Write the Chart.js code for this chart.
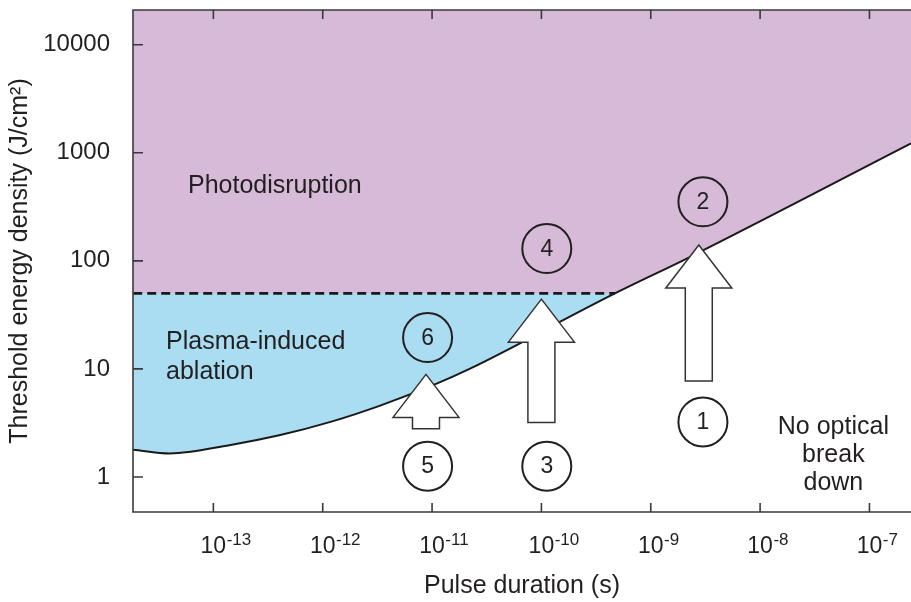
<!DOCTYPE html>
<html>
<head>
<meta charset="utf-8">
<script src="https://cdn.jsdelivr.net/npm/chart.js@4/dist/chart.umd.min.js"></script>
<style>
	body { margin: 0; background: #ffffff; }
	canvas { display: block; }
</style>
</head>
<body>
<canvas id="thresholdChart" width="911" height="602"></canvas>
<script>
// threshold curve
const pulseDuration = [1.85e-14, 4e-14, 1.4e-13, 4e-13, 1.2e-12, 3.4e-12, 1.1e-11, 2.2e-11, 5.2e-11, 1.4e-10, 4.7e-10, 2.3e-9, 2.4e-7];
const thresholdDensity = [1.79, 1.65, 1.97, 2.43, 3.25, 4.6, 7.3, 10, 15.5, 26.5, 50, 109, 1220];
const plasmaLimit = 50;

const pulseTickExponents = [-13, -12, -11, -10, -9, -8, -7];
const densityTicks = [1, 10, 100, 1000, 10000];

// numbered circles
const circleLabels = ["1", "2", "3", "4", "5", "6"];
const circlePulse = [3.0e-9, 3.0e-9, 1.12e-10, 1.12e-10, 9.1e-12, 9.1e-12];
const circleDensity = [3.23, 352, 1.26, 130, 1.26, 19.5];

// block arrows (from -> to)
const arrowPulse = [8.8e-12, 1.0e-10, 2.75e-9];
const arrowFrom = [2.8, 3.19, 7.74];
const arrowTo = [8.9, 44.2, 140];

// region labels
const regionText = [["Photodisruption"], ["Plasma-induced", "ablation"], ["No optical", "break", "down"]];
const regionPulse = [5.86e-14, 3.69e-14, 4.68e-8];
const regionDensity = [424, 15.2, 2.49];
const regionAlign = ["left", "left", "center"];

const FONT = "'Liberation Sans', Arial, Helvetica, sans-serif";
const INK = "#231f20";

const crossIdx = thresholdDensity.findIndex((v) => v >= plasmaLimit);
const curvePoints = pulseDuration.map((p, i) => ({ x: p, y: thresholdDensity[i] }));
const dashedPoints = [
	{ x: pulseDuration[0], y: plasmaLimit },
	{ x: pulseDuration[crossIdx], y: plasmaLimit },
];
const upperPoints = dashedPoints.concat(curvePoints.slice(crossIdx + 1));
const circlePoints = circlePulse.map((p, i) => ({ x: p, y: circleDensity[i] }));

const annotationPlugin = {
	id: "figureExtras",
	afterDatasetsDraw(chart) {
		const { ctx } = chart;
		const xs = chart.scales.x;
		const ys = chart.scales.y;

		// arrows
		ctx.save();
		ctx.lineWidth = 1.5;
		ctx.strokeStyle = "#333333";
		ctx.fillStyle = "#ffffff";
		ctx.lineJoin = "miter";
		arrowPulse.forEach((p, i) => {
			const cx = xs.getPixelForValue(p);
			const yTail = ys.getPixelForValue(arrowFrom[i]);
			const yTip = ys.getPixelForValue(arrowTo[i]);
			const shaft = 13.5;
			const head = 33;
			const headH = 43;
			ctx.beginPath();
			ctx.moveTo(cx, yTip);
			ctx.lineTo(cx + head, yTip + headH);
			ctx.lineTo(cx + shaft, yTip + headH);
			ctx.lineTo(cx + shaft, yTail);
			ctx.lineTo(cx - shaft, yTail);
			ctx.lineTo(cx - shaft, yTip + headH);
			ctx.lineTo(cx - head, yTip + headH);
			ctx.closePath();
			ctx.fill();
			ctx.stroke();
		});
		ctx.restore();
	},
	afterDraw(chart) {
		const { ctx, chartArea } = chart;
		const xs = chart.scales.x;
		const ys = chart.scales.y;

		ctx.save();
		// frame: left, bottom, top
		ctx.strokeStyle = "#3a3a3a";
		ctx.lineWidth = 1.6;
		ctx.beginPath();
		ctx.moveTo(chartArea.right, chartArea.top);
		ctx.lineTo(chartArea.left, chartArea.top);
		ctx.lineTo(chartArea.left, chartArea.bottom);
		ctx.lineTo(chartArea.right, chartArea.bottom);
		ctx.stroke();

		// inward tick marks
		ctx.beginPath();
		pulseTickExponents.forEach((e) => {
			const x = xs.getPixelForValue(Math.pow(10, e));
			ctx.moveTo(x, chartArea.bottom);
			ctx.lineTo(x, chartArea.bottom - 9);
			ctx.moveTo(x, chartArea.top);
			ctx.lineTo(x, chartArea.top + 9);
		});
		densityTicks.forEach((v) => {
			const y = ys.getPixelForValue(v);
			ctx.moveTo(chartArea.left, y);
			ctx.lineTo(chartArea.left + 10, y);
		});
		ctx.stroke();

		// x tick labels with superscript exponents
		ctx.fillStyle = INK;
		ctx.textBaseline = "alphabetic";
		pulseTickExponents.forEach((e) => {
			const x = xs.getPixelForValue(Math.pow(10, e));
			ctx.font = "23px " + FONT;
			ctx.textAlign = "center";
			const w = ctx.measureText("10").width;
			ctx.fillText("10", x, chartArea.bottom + 41);
			ctx.font = "17px " + FONT;
			ctx.textAlign = "left";
			ctx.fillText(String(e), x + w / 2 + 0.5, chartArea.bottom + 33);
		});

		// region labels
		ctx.font = "25px " + FONT;
		regionText.forEach((lines, i) => {
			const x = xs.getPixelForValue(regionPulse[i]);
			const y = ys.getPixelForValue(regionDensity[i]);
			const step = lines.length > 2 ? 28 : 30;
			ctx.textAlign = regionAlign[i];
			lines.forEach((t, k) => ctx.fillText(t, x, y + k * step));
		});

		// circle numbers
		ctx.font = "23px " + FONT;
		ctx.textAlign = "center";
		ctx.textBaseline = "middle";
		circleLabels.forEach((t, i) => {
			const x = xs.getPixelForValue(circlePulse[i]);
			const y = ys.getPixelForValue(circleDensity[i]);
			ctx.fillText(t, x, y + 1);
		});
		ctx.restore();
	},
};

const ctx = document.getElementById("thresholdChart").getContext("2d");
const chart = new Chart(ctx, {
	type: "line",
	data: {
		datasets: [
			{
				// plasma-induced ablation (blue), sits under the purple
				data: curvePoints,
				borderWidth: 0,
				pointRadius: 0,
				backgroundColor: "rgb(170, 221, 242)",
				fill: "end",
				cubicInterpolationMode: "monotone",
				order: 5,
			},
			{
				// photodisruption (purple)
				data: upperPoints,
				borderWidth: 0,
				pointRadius: 0,
				backgroundColor: "rgb(214, 186, 216)",
				fill: "end",
				tension: 0,
				order: 4,
			},
			{
				data: dashedPoints,
				borderColor: "#1a1a1a",
				borderWidth: 2.6,
				borderDash: [9, 5],
				pointRadius: 0,
				fill: false,
				order: 2,
			},
			{
				data: curvePoints,
				borderColor: "#1a1a1a",
				borderWidth: 2,
				pointRadius: 0,
				fill: false,
				cubicInterpolationMode: "monotone",
				order: 1,
			},
			{
				data: circlePoints,
				showLine: false,
				pointRadius: 24.5,
				pointBorderWidth: 2,
				pointBorderColor: INK,
				pointBackgroundColor: "rgba(0, 0, 0, 0)",
				fill: false,
				order: 0,
			},
		],
	},
	options: {
		responsive: false,
		animation: false,
		events: [],
		layout: { autoPadding: false, padding: { left: 5, top: 10, right: 0, bottom: 0 } },
		plugins: {
			legend: { display: false },
			tooltip: { enabled: false },
		},
		scales: {
			x: {
				type: "logarithmic",
				min: Math.pow(10, -13.735),
				max: Math.pow(10, -6.62),
				grid: { display: false, drawTicks: false },
				border: { display: false },
				ticks: { display: false },
				title: {
					display: true,
					text: "Pulse duration (s)",
					color: INK,
					font: { family: FONT, size: 25 },
					padding: { top: 59, bottom: 1 },
				},
			},
			y: {
				type: "logarithmic",
				min: Math.pow(10, -0.324),
				max: Math.pow(10, 4.321),
				afterBuildTicks: (scale) => {
					scale.ticks = densityTicks.map((v) => ({ value: v }));
				},
				afterFit: (scale) => {
					// axis line sits at x = 133 like the figure
					scale.width = 128;
					scale.paddingTop = 0;
					scale.paddingBottom = 0;
				},
				grid: { display: false, drawTicks: false },
				border: { display: false },
				ticks: {
					color: INK,
					padding: 23,
					font: { family: FONT, size: 24 },
					callback: (v) => String(v),
				},
				title: {
					display: true,
					text: "Threshold energy density (J/cm²)",
					color: INK,
					font: { family: FONT, size: 25 },
					padding: { top: 0, bottom: 0 },
				},
			},
		},
	},
	plugins: [annotationPlugin],
});
</script>
</body>
</html>
